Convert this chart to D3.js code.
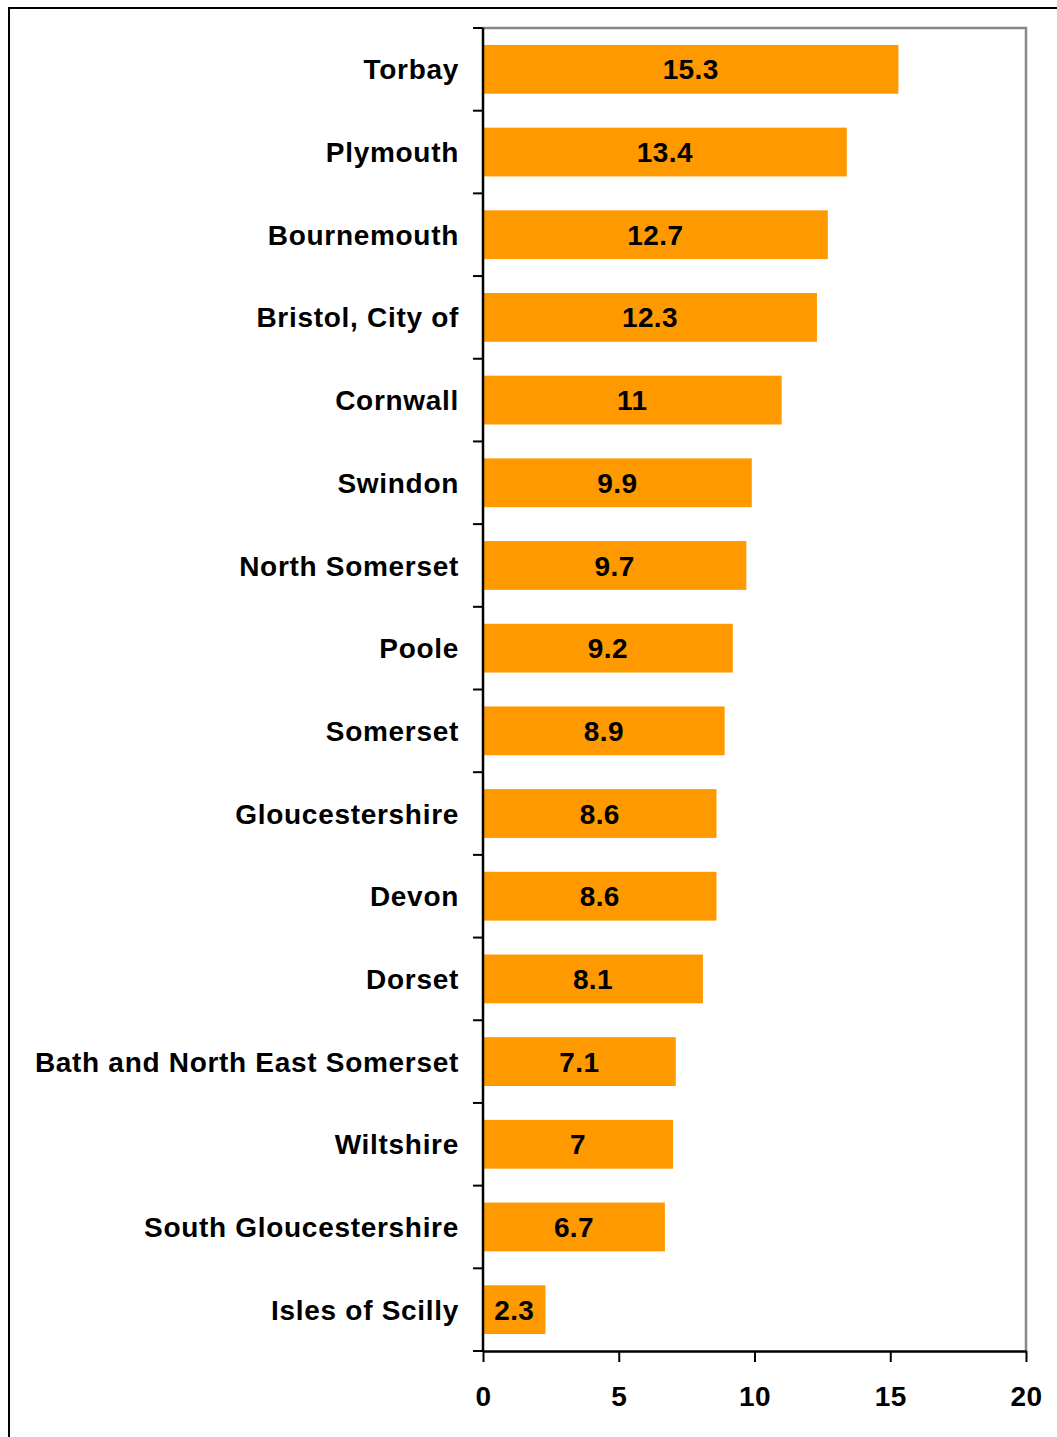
<!DOCTYPE html>
<html>
<head>
<meta charset="utf-8">
<script src="https://cdn.jsdelivr.net/npm/d3@7"></script>
<style>
  html, body { margin: 0; padding: 0; background: #fff; }
  svg { display: block; }
  text { font-family: "Liberation Sans", Arial, sans-serif; font-weight: bold; fill: #000; }
</style>
</head>
<body>
<div id="chart"></div>
<script>
const areas = ["Torbay", "Plymouth", "Bournemouth", "Bristol, City of", "Cornwall", "Swindon",
  "North Somerset", "Poole", "Somerset", "Gloucestershire", "Devon", "Dorset",
  "Bath and North East Somerset", "Wiltshire", "South Gloucestershire", "Isles of Scilly"];
const values = [15.3, 13.4, 12.7, 12.3, 11, 9.9, 9.7, 9.2, 8.9, 8.6, 8.6, 8.1, 7.1, 7, 6.7, 2.3];
const xTicks = [0, 5, 10, 15, 20];

const W = 1057, H = 1437;
const plot = {left: 483, top: 28, right: 1026, bottom: 1351};

const svg = d3.select("#chart").append("svg")
  .attr("width", W)
  .attr("height", H);

// outer frame
svg.append("rect")
  .attr("x", 9).attr("y", 8)
  .attr("width", W + 20).attr("height", H + 20)
  .attr("fill", "none")
  .attr("stroke", "#000")
  .attr("stroke-width", 2);

const x = d3.scaleLinear().domain([0, 20]).range([plot.left, plot.right]);
const y = d3.scaleBand().domain(areas).range([plot.top, plot.bottom]).paddingInner(0.41).paddingOuter(0.205);

// gray top / right plot border
svg.append("path")
  .attr("d", `M${plot.left},${plot.top}H${plot.right}V${plot.bottom}`)
  .attr("fill", "none")
  .attr("stroke", "#888")
  .attr("stroke-width", 2.5);

const data = areas.map((a, i) => ({area: a, value: values[i]}));

svg.selectAll("rect.bar").data(data).enter().append("rect")
  .attr("class", "bar")
  .attr("x", x(0))
  .attr("y", d => y(d.area))
  .attr("width", d => x(d.value) - x(0))
  .attr("height", y.bandwidth())
  .attr("fill", "#FF9900");

svg.selectAll("text.val").data(data).enter().append("text")
  .attr("class", "val")
  .attr("x", d => (x(0) + x(d.value)) / 2)
  .attr("y", d => y(d.area) + y.bandwidth() / 2)
  .attr("dy", "0.36em")
  .attr("text-anchor", "middle")
  .attr("font-size", 28)
  .attr("letter-spacing", 0.4)
  .text(d => d.value);

// category labels
svg.selectAll("text.cat").data(areas).enter().append("text")
  .attr("class", "cat")
  .attr("x", plot.left - 24)
  .attr("y", d => y(d) + y.bandwidth() / 2)
  .attr("dy", "0.36em")
  .attr("text-anchor", "end")
  .attr("font-size", 28)
  .attr("letter-spacing", 0.7)
  .text(d => d);

// y axis line with separator ticks at band edges
const sepY = d3.range(areas.length + 1).map(i => plot.top + i * (plot.bottom - plot.top) / areas.length);
const yAxis = svg.append("g");
yAxis.selectAll("line.sep").data(sepY).enter().append("line")
  .attr("x1", plot.left - 10).attr("x2", plot.left)
  .attr("y1", d => d).attr("y2", d => d)
  .attr("stroke", "#000").attr("stroke-width", 2);
yAxis.append("line")
  .attr("x1", plot.left).attr("x2", plot.left)
  .attr("y1", plot.top).attr("y2", plot.bottom)
  .attr("stroke", "#000").attr("stroke-width", 2.5);

// x axis
const xAxis = svg.append("g")
  .attr("transform", `translate(0,${plot.bottom})`)
  .call(d3.axisBottom(x).tickValues(xTicks).tickSize(11).tickSizeOuter(0).tickPadding(24));
xAxis.select(".domain").attr("stroke", "#000").attr("stroke-width", 2.5);
xAxis.selectAll(".tick line").attr("stroke", "#000").attr("stroke-width", 2);
xAxis.selectAll(".tick text")
  .attr("font-size", 28)
  .attr("font-family", "Liberation Sans, Arial, sans-serif")
  .attr("font-weight", "bold")
  .attr("fill", "#000")
  .attr("letter-spacing", 0.4);
</script>
</body>
</html>
